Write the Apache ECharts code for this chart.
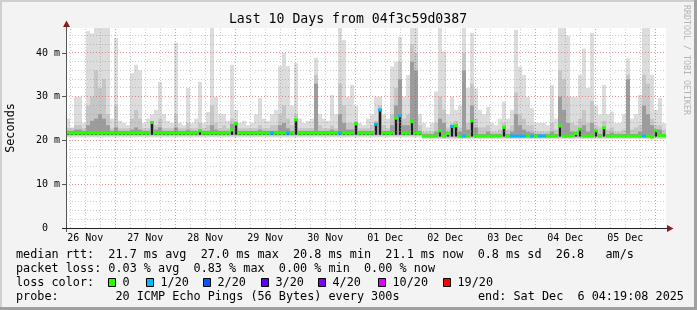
<!DOCTYPE html>
<html><head><meta charset="utf-8">
<script src="https://cdn.jsdelivr.net/npm/echarts@6/dist/echarts.min.js"></script>
<style>html,body{margin:0;padding:0;background:#f3f3f3}#c{width:697px;height:310px}</style>
</head><body><div id="c"></div>
<script>
// time axis: hours since 26 Nov 2025 00:00
const START_H = 4.3189;   // 26 Nov 04:19:08
const END_H = 244.3189;   // 06 Dec 04:19:08
const BIN_H = 1.6;        // each value below covers 1.6 h
const Y_MAX = 45.714;

const xLabels = ['26 Nov','27 Nov','28 Nov','29 Nov','30 Nov','01 Dec','02 Dec','03 Dec','04 Dec','05 Dec'];
const xLabelHours = [12,36,60,84,108,132,156,180,204,228];
const yLabelValues = [0,10,20,30,40];

// median rtt (ms)
const median = [
21.7,21.7,21.7,21.7,21.7,21.7,21.7,21.7,21.7,21.7,
21.7,21.7,21.7,21.7,21.7,21.7,21.7,21.7,21.7,21.7,
21.7,24.1,21.7,21.7,21.7,21.7,21.7,21.7,21.7,21.7,
21.7,21.7,21.7,22.2,21.7,21.7,21.7,21.7,21.7,21.7,
21.7,22.4,23.8,21.7,21.7,21.7,21.7,21.7,21.7,21.7,
21.7,21.7,21.7,21.7,21.7,21.7,21.7,24.7,21.7,21.7,
21.7,21.7,21.7,21.7,21.7,21.7,21.7,21.7,21.7,21.7,
21.7,21.7,23.8,21.7,21.7,21.7,21.7,23.7,27.0,21.7,
21.7,21.7,25.1,25.6,21.7,21.7,24.3,21.7,21.7,21.0,
21.0,21.0,21.0,22.2,21.0,21.6,23.2,23.4,21.0,21.0,
21.0,24.5,21.0,21.0,21.0,21.0,21.0,21.0,21.0,23.0,
21.0,21.0,21.0,21.0,21.0,21.0,21.0,21.0,21.0,21.0,
21.0,21.0,21.0,23.3,21.0,21.0,21.0,21.6,22.6,21.0,
21.0,21.0,22.2,21.0,22.9,21.0,21.0,21.0,21.0,21.0,
21.0,21.0,21.0,21.0,21.0,21.0,20.8,22.2,21.1,21.1];

// packet loss (lost pings of 20) per value
const loss = [
0,0,0,0,0,0,0,0,0,0, 0,0,0,0,0,0,0,0,0,0,
0,0,0,0,0,0,0,0,0,0, 0,0,0,0,0,0,0,0,0,0,
0,0,0,0,0,0,0,0,0,0, 0,1,0,0,0,1,0,0,0,0,
0,0,0,0,0,0,0,0,1,0, 0,0,0,0,0,0,0,1,1,0,
0,0,0,1,0,0,0,0,0,0, 0,0,0,0,0,0,1,0,0,1,
0,0,0,0,0,0,0,0,0,0, 0,1,1,1,1,0,1,0,1,1,
0,0,0,0,0,0,0,0,0,0, 0,0,0,0,0,0,0,0,0,0,
0,0,0,0,1,0,0,0,0,0];

// smoke: lowest ping (ms)
const smokeLow = [
20.7,20.7,20.7,20.7,20.7,20.7,20.7,20.7,20.7,20.7,
20.7,20.7,20.7,20.7,20.7,20.7,20.7,20.7,20.7,20.7,
20.7,20.7,20.7,20.7,20.7,20.7,20.7,20.7,20.7,20.7,
20.7,20.7,20.7,20.7,20.7,20.7,20.7,20.7,20.7,20.7,
20.7,20.7,20.7,20.7,20.7,20.7,20.7,20.7,20.7,20.7,
20.7,20.7,20.7,20.7,20.7,20.7,20.7,20.7,20.7,20.7,
20.7,20.7,20.7,20.7,20.7,20.7,20.7,20.7,20.7,20.7,
20.7,20.7,20.7,20.7,20.7,20.7,20.7,20.7,20.7,20.7,
20.7,20.7,20.7,20.7,20.7,20.7,20.7,20.7,20.7,20.3,
20.3,20.3,20.3,20.3,20.3,20.3,20.3,20.3,20.3,20.3,
20.3,20.3,20.3,20.3,20.3,20.3,20.3,20.3,20.3,20.3,
20.3,20.3,20.3,20.3,20.3,20.3,20.3,20.3,20.3,20.3,
20.3,20.3,20.3,20.3,20.3,20.3,20.3,20.3,20.3,20.3,
20.3,20.3,20.3,20.3,20.3,20.3,20.3,20.3,20.3,20.3,
20.3,20.3,20.3,20.3,20.3,20.3,20.2,20.3,20.3,20.3];

// smoke: highest ping (ms), light grey
const smokeHigh = [
25,23,30,30,24,45,44.5,45.7,45.7,45.7,
45.7,25,43.4,24.5,24,23.5,35.4,37.3,36,24,
25,26,27,33.4,26,24.5,24,42.3,24,23.5,
32,24,25,33.4,24,26.5,45.7,30,26,26,
24.5,37.3,27,24,24.5,23.5,24,26,29.7,25,
24.5,26,27,37,40,37,28,37.7,25,24,
24.5,25,38.9,26,25,24.5,30.4,26,45.7,43,
30,32.7,28,24,23.5,25,26,30,30,26,
25,36.9,38,43.7,30,35,45.7,45.7,26,24,
23,24,31.2,45.7,40.3,26,30,27,28,45.7,
32,44.6,31.9,27,26,27.7,24,23.5,25,28.9,
25,27,45.3,36.9,35,30,27.4,24,24,24,
23.5,32.7,25,45.7,45.7,44,30,30,35,41,
32,44.6,28,26,32.7,26,26.6,24,24,26,
38.8,25,26,30.4,45.7,45.7,35,27,29.7,24];

// smoke: mid grey band top (ms)
const smokeMid = [
22.8,22.8,23.5,23.5,22.8,28,30,36,32,34,
26,22.8,28,22.8,22.8,22.8,25,27,25,22.8,
22.8,24.5,23.5,25,22.8,22.8,22.8,26,22.8,22.8,
24,22.8,22.8,24,22.8,23.5,28,24,22.8,23.5,
22.8,25,24.5,22.8,22.8,22.8,22.8,22.8,23.5,22.8,
22.8,23.5,23.5,26,28,25,23.5,26,22.8,22.8,
22.8,22.8,35,23.5,22.8,22.8,23.5,22.8,33,28,
24,24,24.5,22.8,22.8,22.8,23.5,24.5,28,23.5,
22.8,26,32,38,25,26,42,40,23.5,22,
22,22,24,30,27,23,24,24.5,23,40,
24,33,25,23,23,23.5,22,22,22.5,24,
22.5,23.5,31,26,25,23.5,23.5,22,22,22,
22,24,22.5,36,34,30,24,23.5,25,27,
24,29,23.5,23,24.5,22.5,23,22,22,22.5,
35,22.5,23,23.5,35,33,25,23.5,23.5,22.5];

// smoke: dark grey band top (ms)
const smokeDark = [
22.2,22.2,22.5,22.5,22.2,23.5,24.5,25,26,25,
23.5,22.2,23,22.2,22.2,22.2,22.5,23,22.5,22.2,
22.2,24.1,22.5,23,22.2,22.2,22.2,23,22.2,22.2,
22.5,22.2,22.2,22.5,22.2,22.2,23.5,22.5,22.2,22.2,
22.2,23.8,24,22.2,22.2,22.2,22.2,22.2,22.5,22.2,
22.2,22.2,22.2,23.5,24,22.8,22.2,24.7,22.2,22.2,
22.2,22.2,33,22.2,22.2,22.2,22.5,22.2,26,24,
22.5,22.5,23.8,22.2,22.2,22.2,22.2,23.8,27,22.2,
22.2,23.5,28,34,23.5,23.5,38,36,22.2,21.5,
21.5,21.5,22,25,24,22,23.3,23.5,22,36,
22.5,28,23,21.5,21.5,22,21.5,21.5,21.5,23,
21.5,22,26,23.5,22.5,22,21.8,21.5,21.5,21.5,
21.5,22,21.5,30,27,24,22,22,22.8,23.5,
22,24,22.2,21.5,23,21.5,21.8,21.5,21.5,21.5,
34,21.5,21.5,22,28,26,23.5,22.5,22.5,21.5];

const lossColors = ['#26ff00','#00b8ff'];
const legendLossLabels = ['0','1/20','2/20','3/20','4/20','10/20','19/20'];
const legendLossColors = ['#26ff00','#00b8ff','#0059ff','#5e00ff','#7e00ff','#dd00ff','#ff0000'];
const legendBoxX = [108,146,203,261,318,378,443];   // layout only
const statsLine1 = 'median rtt:  21.7 ms avg  27.0 ms max  20.8 ms min  21.1 ms now  0.8 ms sd  26.8   am/s';
const statsLine2 = 'packet loss: 0.03 % avg  0.83 % max  0.00 % min  0.00 % now';
const probeLine = 'probe:        20 ICMP Echo Pings (56 Bytes) every 300s';
const endLine = 'end: Sat Dec  6 04:19:08 2025';
const titleText = 'Last 10 Days from 04f3c59d0387';

// gridline positions
const gridHours = []; for (let h = 6; h <= 240; h += 6) gridHours.push([h]);
const gridMs = []; for (let v = 2; v <= 44; v += 2) gridMs.push([v]);

const rows = median.map((m, i) => [START_H + i*BIN_H, START_H + (i+1)*BIN_H,
  smokeLow[i], smokeHigh[i], smokeMid[i], smokeDark[i], m, loss[i]]);

const FONT = 'DejaVu Sans Mono';

function band(api, x0, x1, a, b, fill, inset) {
  const p = api.coord([x0, b]), q = api.coord([x1, a]);
  let xa = Math.round(p[0]), xb = Math.round(q[0]);
  if (inset) { xa += inset; xb -= inset; }
  return {type:'rect', shape:{x:xa, y:p[1], width:xb-xa, height:q[1]-p[1]}, style:{fill}};
}
function smokeItem(params, api) {
  const x0 = api.value(0), x1 = api.value(1), lo = api.value(2), hi = api.value(3),
        mid = api.value(4), dk = api.value(5), med = api.value(6);
  return {type:'group', children:[
    band(api, x0, x1, lo, hi, '#dcdcdc'),
    band(api, x0, x1, lo + 0.3, mid, '#c6c6c6'),
    band(api, x0, x1, lo + 0.6, dk, '#9c9c9c'),
    band(api, x0, x1, lo + 0.6, med, '#1e1e1e', 1)
  ]};
}
function medianItem(params, api) {
  const p = api.coord([api.value(0), api.value(6)]);
  const q = api.coord([api.value(1), api.value(6)]);
  const xa = Math.round(p[0]), xb = Math.round(q[0]);
  return {type:'rect', shape:{x:xa, y:p[1]-1.5, width:xb-xa, height:3},
          style:{fill: lossColors[api.value(7)]}};
}
function vGridItem(params, api) {
  const v = api.value(0);
  const a = api.coord([v, 0]), b = api.coord([v, Y_MAX]);
  const x = Math.floor(a[0]) + 0.5;
  const major = v % 24 === 0;
  return {type:'line', shape:{x1:x, y1:a[1], x2:x, y2:b[1]},
    style:{stroke: major ? 'rgba(225,60,60,0.55)' : 'rgba(140,140,140,0.45)', lineWidth:1, lineDash:[1,2]}};
}
function hGridItem(params, api) {
  const v = api.value(0);
  const a = api.coord([START_H, v]), b = api.coord([END_H, v]);
  const y = Math.floor(a[1]) + 0.5;
  const major = v % 10 === 0;
  return {type:'line', shape:{x1:a[0], y1:y, x2:b[0], y2:y},
    style:{stroke: major ? 'rgba(225,60,60,0.55)' : 'rgba(140,140,140,0.45)', lineWidth:1, lineDash:[1,2]}};
}

const graphic = [
  {type:'rect', shape:{x:0,y:0,width:697,height:2}, style:{fill:'#cfcfcf'}, z:100},
  {type:'rect', shape:{x:0,y:0,width:2,height:310}, style:{fill:'#cfcfcf'}, z:100},
  {type:'rect', shape:{x:0,y:307,width:697,height:3}, style:{fill:'#a0a0a0'}, z:100},
  {type:'rect', shape:{x:694,y:0,width:3,height:310}, style:{fill:'#a0a0a0'}, z:100},
  {type:'text', x:348, y:19.5, style:{text:titleText, font:'13.2px "'+FONT+'"', fill:'#000', align:'center', verticalAlign:'middle'}, z:100},
  {type:'text', x:11, y:128, rotation:Math.PI/2, style:{text:'Seconds', font:'11.8px "'+FONT+'"', fill:'#000', align:'center', verticalAlign:'middle'}, z:100},
  {type:'text', x:686, y:60, rotation:-Math.PI/2, style:{text:'RRDTOOL / TOBI OETIKER', font:'8.3px "'+FONT+'"', fill:'#b4b4b4', align:'center', verticalAlign:'middle'}, z:100},
  // axes
  {type:'line', shape:{x1:66.5,y1:232,x2:66.5,y2:26}, style:{stroke:'#555', lineWidth:1}, z:100},
  {type:'line', shape:{x1:62,y1:228.5,x2:668,y2:228.5}, style:{stroke:'#222', lineWidth:1}, z:100},
  {type:'polygon', shape:{points:[[63,27],[70,27],[66.5,20.5]]}, style:{fill:'#8b1c1c'}, z:100},
  {type:'polygon', shape:{points:[[667,225],[667,232],[673.5,228.5]]}, style:{fill:'#8b1c1c'}, z:100},
  // legend
  {type:'text', x:16, y:254.5, style:{text:statsLine1, font:'11.8px "'+FONT+'"', fill:'#000', verticalAlign:'middle'}, z:100},
  {type:'text', x:16, y:268.5, style:{text:statsLine2, font:'11.8px "'+FONT+'"', fill:'#000', verticalAlign:'middle'}, z:100},
  {type:'text', x:16, y:282.5, style:{text:'loss color:', font:'11.8px "'+FONT+'"', fill:'#000', verticalAlign:'middle'}, z:100},
  {type:'text', x:16, y:296.5, style:{text:probeLine, font:'11.8px "'+FONT+'"', fill:'#000', verticalAlign:'middle'}, z:100},
  {type:'text', x:478, y:296.5, style:{text:endLine, font:'11.8px "'+FONT+'"', fill:'#000', verticalAlign:'middle'}, z:100}
];
legendLossLabels.forEach((lab, k) => {
  const bx = legendBoxX[k];
  graphic.push({type:'rect', shape:{x:bx+0.5, y:278.5, width:7, height:8}, style:{fill:legendLossColors[k], stroke:'#000', lineWidth:1}, z:100});
  graphic.push({type:'text', x:bx+14.5, y:282.5, style:{text:lab, font:'11.8px "'+FONT+'"', fill:'#000', verticalAlign:'middle'}, z:100});
});

const chart = echarts.init(document.getElementById('c'), null, {renderer:'canvas'});
chart.setOption({
  backgroundColor:'#f3f3f3',
  animation:false,
  grid:{left:66, right:31, top:28, bottom:82, show:true, backgroundColor:'#ffffff', borderWidth:0},
  xAxis:{type:'value', min:START_H, max:END_H,
    axisLine:{show:false}, axisTick:{show:false}, splitLine:{show:false},
    axisLabel:{customValues:xLabelHours, margin:5, fontFamily:FONT, fontSize:10, color:'#000',
      formatter:v => xLabels[xLabelHours.indexOf(v)]}},
  yAxis:{type:'value', min:0, max:Y_MAX,
    axisLine:{show:false}, splitLine:{show:false},
    axisTick:{show:true, customValues:yLabelValues, length:4, lineStyle:{color:'#555'}},
    axisLabel:{customValues:yLabelValues, margin:6, fontFamily:FONT, fontSize:10, color:'#000',
      formatter:v => v === 0 ? '0  ' : v + ' m'}},
  graphic: graphic,
  series:[
    {type:'custom', name:'smoke', renderItem:smokeItem, data:rows, encode:{x:[0,1], y:[2,3]}, clip:true, silent:true, z:2},
    {type:'custom', name:'median', renderItem:medianItem, data:rows, encode:{x:[0,1], y:6}, clip:true, silent:true, z:3},
    {type:'custom', name:'vgrid', renderItem:vGridItem, data:gridHours, encode:{x:0}, clip:true, silent:true, z:4},
    {type:'custom', name:'hgrid', renderItem:hGridItem, data:gridMs, encode:{y:0}, clip:true, silent:true, z:4}
  ]
});
</script></body></html>
